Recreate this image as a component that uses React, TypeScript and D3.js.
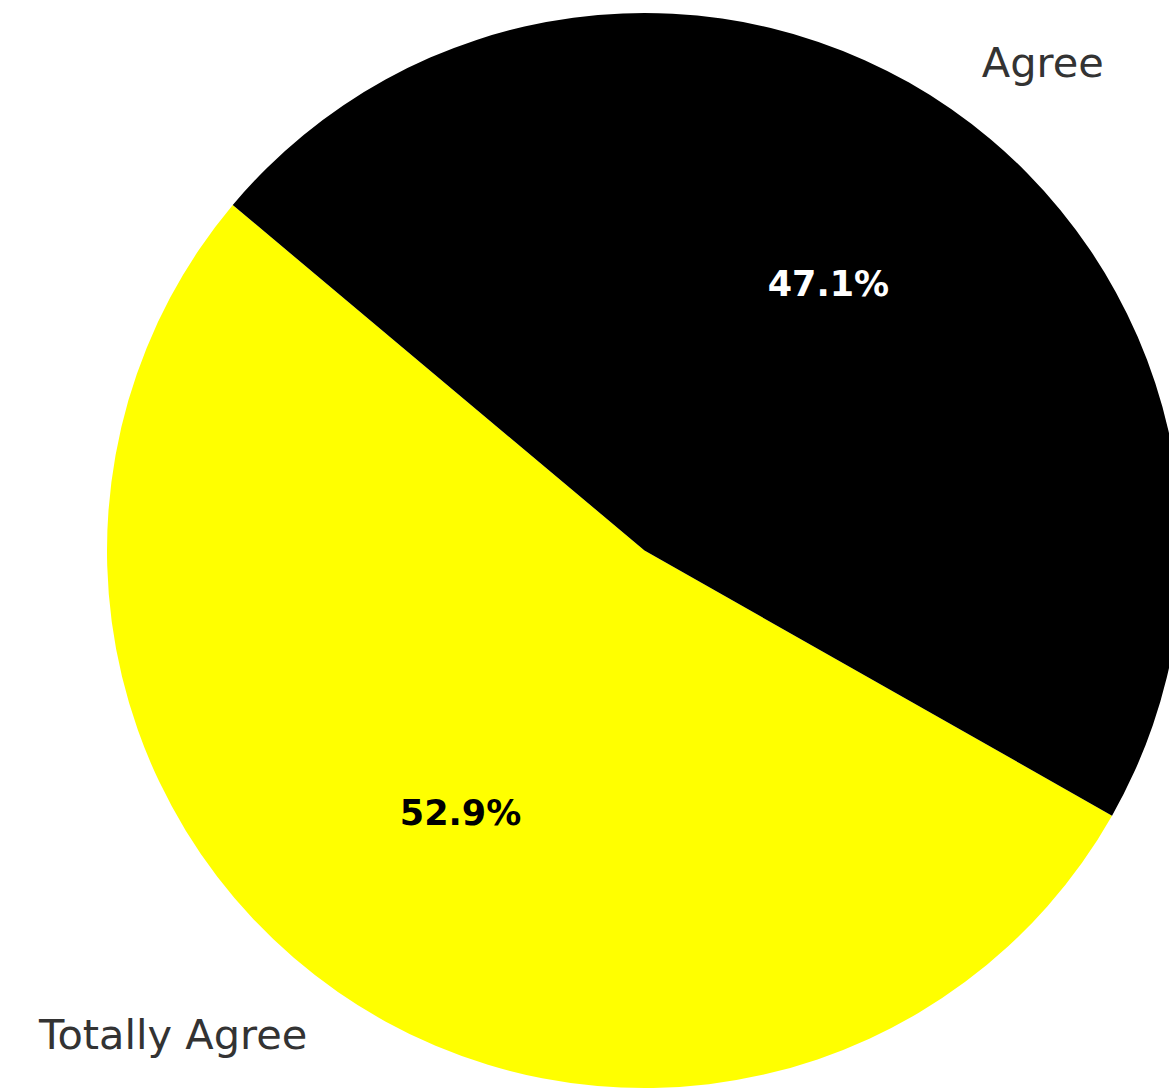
import React from "react";
import * as d3 from "d3";

const categories = ["Totally Agree", "Agree"];
const values = [52.9, 47.1];
const colors = ["#ffff00", "#000000"];
const pctColors = ["#000000", "#ffffff"];

const W = 1169;
const H = 1089;
const cx = 644.5;
const cy = 550.5;
const R = 537.5;
const startDeg = 140; // matplotlib startangle, counterclockwise

export default function App() {
  const total = d3.sum(values);
  // matplotlib angle (deg, ccw from +x) -> d3 angle (rad, cw from +y)
  const toD3 = (deg: number) => ((90 - deg) * Math.PI) / 180;
  let acc = startDeg;
  const slices = values.map((v, i) => {
    const a0 = acc;
    const a1 = acc + (v / total) * 360;
    acc = a1;
    return { i, a0, a1, v };
  });
  const arc = d3.arc<any>().innerRadius(0).outerRadius(R);
  return (
    <svg width={W} height={H} style={{ position: "absolute", left: 0, top: 0, background: "#fff" }}>
      <g transform={`translate(${cx},${cy})`}>
        {slices.map((s) => (
          <path
            key={s.i}
            d={arc({ startAngle: toD3(s.a1), endAngle: toD3(s.a0) }) as string}
            fill={colors[s.i]}
          />
        ))}
        {slices.map((s) => {
          const mid = ((s.a0 + s.a1) / 2) * (Math.PI / 180);
          const lx = 1.1 * R * Math.cos(mid);
          const ly = -1.1 * R * Math.sin(mid);
          const px = 0.6 * R * Math.cos(mid);
          const py = -0.6 * R * Math.sin(mid);
          return (
            <g key={"t" + s.i}>
              <text
                x={lx}
                y={ly - 2}
                textAnchor={lx < 0 ? "end" : "start"}
                dominantBaseline="central"
                fontFamily="DejaVu Sans"
                fontSize={41.5}
                fill="#333333"
              >
                {categories[s.i]}
              </text>
              <text
                x={px}
                y={py - 2}
                textAnchor="middle"
                dominantBaseline="central"
                fontFamily="DejaVu Sans"
                fontWeight="bold"
                fontSize={35}
                fill={pctColors[s.i]}
              >
                {s.v.toFixed(1) + "%"}
              </text>
            </g>
          );
        })}
      </g>
    </svg>
  );
}
